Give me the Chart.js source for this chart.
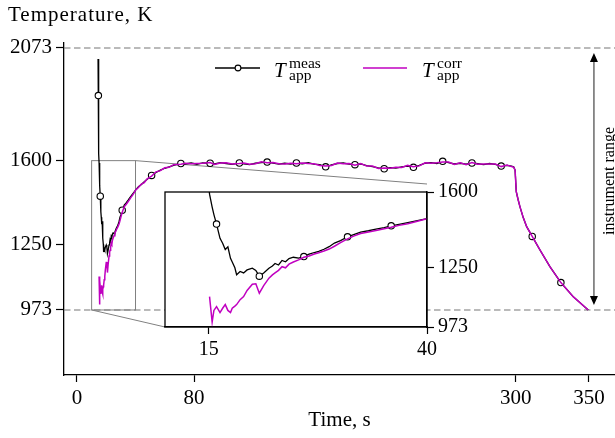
<!DOCTYPE html>
<html>
<head>
<meta charset="utf-8">
<script src="https://cdn.jsdelivr.net/npm/chart.js@4/dist/chart.umd.min.js"></script>
<style>
  html, body { margin: 0; padding: 0; background: #fff; }
  #wrap { position: relative; width: 615px; height: 438px; overflow: hidden; }
  #main { position: absolute; left: 0; top: 0; }
  #inset { position: absolute; left: 155px; top: 176px; }
</style>
</head>
<body>
<div id="wrap">
  <canvas id="main" width="615" height="438"></canvas>
  <canvas id="inset" width="340" height="190"></canvas>
</div>
<script>
// time, s
const time = [
  14.4, 14.6, 15.0, 15.1, 15.4, 15.6, 15.9, 16.3, 16.6, 16.9, 17.2, 17.5, 17.7, 18.0, 18.2,
  18.6, 19.0, 19.4, 20.0, 20.4, 20.8, 21.3, 21.9, 22.3, 22.6, 23.0, 23.4, 23.8, 24.2, 24.7,
  25.3, 25.9, 26.5, 27.1, 27.6, 28.2, 28.8, 29.4, 30.1, 30.9, 31.6, 32.4, 33.3, 34.3, 35.1,
  35.9, 36.8, 37.8, 38.9, 40,
  42, 44, 46, 48, 51, 54, 57, 60, 63, 66, 71, 74, 78, 82, 86, 91, 94, 98, 102, 106,
  111, 114, 118, 122, 126, 130, 134, 138, 142, 146, 150, 154, 158, 162, 166, 170, 174, 178,
  182, 186, 190, 194, 198, 202, 206, 210, 214, 218, 222, 226, 230, 234, 238, 242, 246, 250,
  254, 258, 262, 266, 270, 274, 278, 282, 286, 290, 294, 297, 298.5, 299.5, 300.3, 301.5,
  302.8, 305, 307.4, 311.2, 316.5, 323.3, 330.8, 339.2, 349.5
];

// measured apparent temperature, K
const meas = [
  2027, 1873, 1630, 1590, 1530, 1495, 1451, 1385, 1362, 1333, 1345, 1292, 1275, 1248, 1216,
  1231, 1224, 1238, 1246, 1236, 1209, 1224, 1246, 1256, 1268, 1261, 1282, 1276, 1291, 1297,
  1293, 1300, 1311, 1319, 1324, 1334, 1346, 1363, 1374, 1392, 1402, 1414, 1420, 1429, 1435,
  1443, 1450, 1458, 1467, 1476,
  1490, 1500, 1511, 1522, 1538, 1550, 1560, 1568, 1574, 1580, 1588, 1586, 1590, 1585, 1591, 1589, 1586, 1592, 1588, 1584,
  1590, 1587, 1583, 1589, 1592, 1594, 1590, 1585, 1589, 1586, 1590, 1587, 1591, 1585, 1583, 1574, 1582, 1588,
  1590, 1585, 1583, 1586, 1579, 1575, 1570, 1566, 1571, 1569, 1574, 1577, 1572, 1580, 1589, 1592, 1588, 1597,
  1592, 1586, 1589, 1585, 1590, 1587, 1583, 1588, 1584, 1577, 1580, 1577, 1574, 1560, 1470, 1438,
  1407, 1362, 1323, 1282, 1225, 1155, 1088, 1029, 973
];

// corrected apparent temperature, K
const corr = [
  null, null, null, 1114, 996, 1050, 1068, 1040, 1060, 1077, 1050, 1040, 1060, 1070, 1077,
  1100, 1114, 1143, 1172, 1174, 1130, 1165, 1200, 1215, 1224, 1236, 1253, 1248, 1265, 1275,
  1285, 1297, 1303, 1312, 1318, 1326, 1335, 1348, 1365, 1382, 1395, 1407, 1414, 1422, 1429,
  1436, 1445, 1453, 1464, 1476,
  1487, 1502, 1508, 1524, 1535, 1553, 1558, 1570, 1572, 1583, 1585, 1589, 1587, 1588, 1589, 1592, 1584, 1590, 1591, 1586,
  1588, 1590, 1585, 1587, 1595, 1591, 1592, 1587, 1586, 1589, 1587, 1590, 1588, 1587, 1580, 1577, 1580, 1590,
  1587, 1588, 1581, 1588, 1577, 1577, 1567, 1569, 1568, 1572, 1571, 1580, 1574, 1578, 1591, 1589, 1591, 1594,
  1594, 1584, 1591, 1583, 1592, 1585, 1586, 1586, 1586, 1575, 1582, 1575, 1573, 1560, 1470, 1438,
  1407, 1362, 1323, 1282, 1225, 1155, 1088, 1029, 973
];

// times carrying a circle marker
const mainMarks = [14.6, 15.9, 30.9, 51, 71, 91, 111, 130, 150, 170, 190, 210, 230, 250, 270, 290, 311.2, 330.8];
const insetMarks = [15.9, 20.8, 25.9, 30.9, 35.9];

const xTicks = [0, 80, 300, 350];
const yTicks = [973, 1250, 1600, 2073];
const insetXTicks = [15, 40];
const insetYTicks = [973, 1250, 1600];
const limits = [973, 2073];
const insetX = [10, 40];
const insetY = [973, 1600];
const arrowX = 353.4;

const SERIF = '"Liberation Serif", "Times New Roman", serif';
const MAGENTA = '#c000c0';
// inset box on the page, px
const INSET = { left: 165, top: 184, right: 427, bottom: 327, canvasLeft: 155, canvasTop: 176 };

function pts(ys) {
  return time.map((t, i) => ({ x: t, y: ys[i] }));
}

function axisStyle(size) {
  return {
    grid: { drawOnChartArea: false, tickLength: 7, tickColor: '#000', tickWidth: 1.2 },
    border: { color: '#000', width: 1.3 },
    ticks: {
      color: '#000', font: { family: SERIF, size: size }, padding: 4, maxRotation: 0, autoSkip: false,
      callback: v => String(v)
    }
  };
}

function drawSub(ctx, x, sup, sub) {
  ctx.font = 'italic 21px ' + SERIF;
  ctx.fillText('T', x, 77);
  ctx.font = '15.5px ' + SERIF;
  ctx.fillText(sup, x + 15, 68);
  ctx.fillText(sub, x + 15, 80);
}

const mainDecor = {
  id: 'mainDecor',
  beforeDatasetsDraw(chart) {
    const { ctx, chartArea: a, scales: { x, y } } = chart;
    ctx.save();
    ctx.strokeStyle = '#777';
    ctx.lineWidth = 1.2;
    ctx.setLineDash([6.5, 3.5]);
    limits.forEach(v => {
      const py = y.getPixelForValue(v);
      ctx.beginPath();
      ctx.moveTo(a.left, py);
      ctx.lineTo(a.right, py);
      ctx.stroke();
    });
    ctx.setLineDash([]);
    // zoom box and connectors
    const bx0 = x.getPixelForValue(insetX[0]), bx1 = x.getPixelForValue(insetX[1]);
    const by0 = y.getPixelForValue(insetY[0]), by1 = y.getPixelForValue(insetY[1]);
    ctx.strokeStyle = '#808080';
    ctx.lineWidth = 1;
    ctx.strokeRect(bx0, by1, bx1 - bx0, by0 - by1);
    ctx.beginPath();
    ctx.moveTo(bx1, by1); ctx.lineTo(INSET.right, INSET.top);
    ctx.moveTo(bx0, by0); ctx.lineTo(INSET.left, INSET.bottom);
    ctx.stroke();
    ctx.restore();
  },
  afterDraw(chart) {
    const { ctx, scales: { x, y } } = chart;
    ctx.save();
    // instrument range arrow
    const ax = x.getPixelForValue(arrowX);
    const yt = y.getPixelForValue(limits[1]) + 5;
    const yb = y.getPixelForValue(limits[0]) - 5;
    ctx.strokeStyle = '#444';
    ctx.lineWidth = 1.2;
    ctx.beginPath();
    ctx.moveTo(ax, yt + 8); ctx.lineTo(ax, yb - 8);
    ctx.stroke();
    ctx.fillStyle = '#000';
    ctx.beginPath();
    ctx.moveTo(ax, yt); ctx.lineTo(ax - 4, yt + 9); ctx.lineTo(ax + 4, yt + 9); ctx.closePath();
    ctx.moveTo(ax, yb); ctx.lineTo(ax - 4, yb - 9); ctx.lineTo(ax + 4, yb - 9); ctx.closePath();
    ctx.fill();
    ctx.save();
    ctx.translate(615, (yt + yb) / 2);
    ctx.rotate(-Math.PI / 2);
    ctx.font = '16px ' + SERIF;
    ctx.textAlign = 'center';
    ctx.textBaseline = 'alphabetic';
    ctx.fillText('instrument range', -2, -1);
    ctx.restore();

    // title
    ctx.fillStyle = '#000';
    ctx.font = '21px ' + SERIF;
    ctx.textAlign = 'left';
    ctx.textBaseline = 'alphabetic';
    ctx.letterSpacing = '1px';
    ctx.fillText('Temperature, K', 8, 21);
    ctx.letterSpacing = '0px';

    // legend
    ctx.lineWidth = 1.3;
    ctx.strokeStyle = '#000';
    ctx.beginPath(); ctx.moveTo(215, 68); ctx.lineTo(260, 68); ctx.stroke();
    ctx.fillStyle = '#fff';
    ctx.lineWidth = 1.1;
    ctx.beginPath(); ctx.arc(238, 68, 2.9, 0, Math.PI * 2); ctx.fill(); ctx.stroke();
    ctx.strokeStyle = MAGENTA;
    ctx.lineWidth = 1.4;
    ctx.beginPath(); ctx.moveTo(363, 68); ctx.lineTo(407, 68); ctx.stroke();
    ctx.fillStyle = '#000';
    drawSub(ctx, 274, 'meas', 'app');
    drawSub(ctx, 422, 'corr', 'app');
    ctx.restore();
  }
};

const insetFrame = {
  id: 'insetFrame',
  beforeDraw(chart) {
    const { ctx, chartArea: a } = chart;
    ctx.save();
    ctx.fillStyle = '#fff';
    ctx.fillRect(a.left, a.top, a.right - a.left, a.bottom - a.top);
    ctx.restore();
  },
  afterDatasetsDraw(chart) {
    const { ctx, chartArea: a } = chart;
    ctx.save();
    ctx.strokeStyle = '#000';
    ctx.lineWidth = 1.3;
    ctx.strokeRect(a.left, a.top, a.right - a.left, a.bottom - a.top);
    ctx.restore();
  }
};

function datasets(marks) {
  return [
    { label: 'corr', data: pts(corr), borderColor: MAGENTA, borderWidth: 1.5, pointRadius: 0, order: 0 },
    {
      label: 'meas', data: pts(meas), borderColor: '#000', borderWidth: 1.3, order: 1,
      pointRadius: c => marks.includes(time[c.dataIndex]) ? 3.2 : 0,
      pointBackgroundColor: '#fff', pointBorderColor: '#000', pointBorderWidth: 1.1
    }
  ];
}

const mx = axisStyle(21), my = axisStyle(21);
new Chart(document.getElementById('main'), {
  type: 'line',
  data: { datasets: datasets(mainMarks) },
  options: {
    responsive: false, animation: false, events: [],
    layout: { padding: { top: 43, left: 0, right: 0, bottom: 0 } },
    plugins: { legend: { display: false }, tooltip: { enabled: false } },
    elements: { line: { tension: 0 } },
    scales: {
      x: {
        type: 'linear', min: -8.887, max: 367.8,
        afterBuildTicks: s => { s.ticks = xTicks.map(v => ({ value: v })); },
        afterFit: s => { s.height = 63; },
        grid: mx.grid, border: mx.border, ticks: mx.ticks,
        title: { display: true, text: 'Time, s', color: '#000', font: { family: SERIF, size: 21 }, padding: { top: 0, bottom: 5 } }
      },
      y: {
        type: 'linear', min: 700, max: 2093.9,
        afterBuildTicks: s => { s.ticks = yTicks.map(v => ({ value: v })); },
        afterFit: s => { s.width = 64; },
        grid: Object.assign({}, my.grid, { tickLength: 8 }), border: my.border, ticks: my.ticks
      }
    }
  },
  plugins: [mainDecor]
});

const ix = axisStyle(20), iy = axisStyle(20);
new Chart(document.getElementById('inset'), {
  type: 'line',
  data: { datasets: datasets(insetMarks) },
  options: {
    responsive: false, animation: false, events: [],
    layout: { padding: { top: INSET.top - INSET.canvasTop, left: INSET.left - INSET.canvasLeft, right: 0, bottom: 0 } },
    plugins: { legend: { display: false }, tooltip: { enabled: false } },
    elements: { line: { tension: 0 } },
    scales: {
      x: {
        type: 'linear', min: insetX[0], max: insetX[1],
        afterBuildTicks: s => { s.ticks = insetXTicks.map(v => ({ value: v })); },
        afterFit: s => { s.height = 190 - (INSET.bottom - INSET.canvasTop); },
        grid: ix.grid, border: ix.border, ticks: ix.ticks
      },
      y: {
        type: 'linear', position: 'right', min: insetY[0], max: insetY[1],
        afterBuildTicks: s => { s.ticks = insetYTicks.map(v => ({ value: v })); },
        afterFit: s => { s.width = 340 - (INSET.right - INSET.canvasLeft); },
        grid: iy.grid, border: iy.border, ticks: iy.ticks
      }
    }
  },
  plugins: [insetFrame]
});
</script>
</body>
</html>
